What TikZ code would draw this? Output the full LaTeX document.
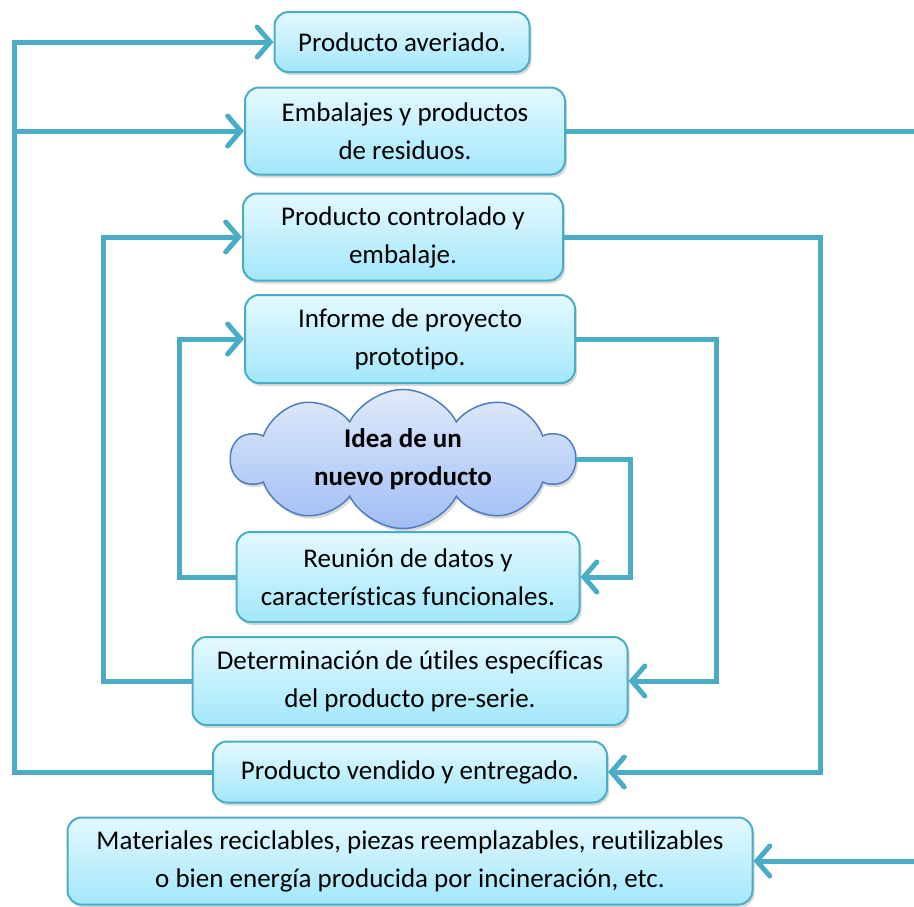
\documentclass[tikz,border=0pt]{standalone}
\usepackage{fontspec}
\setmainfont{Carlito}[Ligatures=NoCommon]
\usetikzlibrary{arrows.meta,shapes.symbols,shadows}
\definecolor{lc}{RGB}{75,172,198}
\definecolor{boxtop}{RGB}{228,249,255}
\definecolor{boxbot}{RGB}{162,231,251}
\definecolor{cloudtop}{RGB}{224,234,250}
\definecolor{cloudbot}{RGB}{160,190,245}
\definecolor{cloudline}{RGB}{80,125,190}
\begin{document}
\begin{tikzpicture}[x=1pt,y=-1pt,
 box/.style={draw=lc, line width=2pt, rounded corners=14pt, top color=boxtop, bottom color=boxbot,
   align=center, inner sep=0pt, font=\fontsize{27}{38}\selectfont,
   drop shadow={shadow xshift=2pt,shadow yshift=-3pt,opacity=0.3}},
 conn/.style={draw=lc, line width=5pt, line join=miter},
 arr/.style={conn, -{Straight Barb[length=13pt,width=30pt,line cap=round]}}]
\useasboundingbox (0,0) rectangle (914,906);
\node[box, minimum width=255pt, minimum height=60pt] (b1) at (402,42) {Producto averiado.};
\node[box, minimum width=320pt, minimum height=87pt] (b2) at (405,131) {Embalajes y productos\\de residuos.};
\node[box, minimum width=320pt, minimum height=87pt] (b3) at (403,237) {Producto controlado y\\embalaje.};
\node[box, minimum width=330pt, minimum height=88pt] (b4) at (410,339) {Informe de proyecto\\prototipo.};
\node[cloud, cloud puffs=10, cloud puff arc=125, aspect=2.6, draw=cloudline, line width=1.5pt, top color=cloudtop, bottom color=cloudbot,
  minimum width=343pt, minimum height=132pt, inner sep=0pt, align=center,
  font=\bfseries\fontsize{27}{38}\selectfont,
  drop shadow={shadow xshift=2pt,shadow yshift=-3pt,opacity=0.3}] (cl) at (403,459) {Idea de un\\nuevo producto};
\node[box, minimum width=343pt, minimum height=90pt] (b6) at (408,577) {Reunión de datos y\\características funcionales.};
\node[box, minimum width=435pt, minimum height=88pt] (b7) at (410,681) {Determinación de útiles específicas\\del producto pre-serie.};
\node[box, minimum width=394pt, minimum height=61pt] (b8) at (410,772) {Producto vendido y entregado.};
\node[box, minimum width=685pt, minimum height=87pt] (b9) at (410,861)
  {Materiales reciclables, piezas reemplazables, reutilizables\\o bien energía producida por incineración, etc.};
\coordinate (L1) at (14,0);
\coordinate (L2) at (103,0);
\coordinate (L3) at (179,0);
\coordinate (R3) at (630,0);
\coordinate (R2) at (716,0);
\coordinate (R1) at (820,0);
\coordinate (RE) at (914,0);
\draw[arr] (b8.west) -- (b8.west -| L1) -- (b2.west -| L1) -- (b2.west);
\draw[arr] (b2.west -| L1) -- (b1.west -| L1) -- (b1.west);
\draw[conn] (b2.east) -- (b2.east -| RE);
\draw[arr] (b9.east -| RE) -- (b9.east);
\draw[arr] (b3.east) -- (b3.east -| R1) -- (b8.east -| R1) -- (b8.east);
\draw[arr] (b7.west) -- (b7.west -| L2) -- (b3.west -| L2) -- (b3.west);
\draw[arr] (b4.east) -- (b4.east -| R2) -- (b7.east -| R2) -- (b7.east);
\draw[arr] (b6.west) -- (b6.west -| L3) -- (b4.west -| L3) -- (b4.west);
\draw[arr] (cl.east) -- (cl.east -| R3) -- (b6.east -| R3) -- (b6.east);
\end{tikzpicture}
\end{document}
